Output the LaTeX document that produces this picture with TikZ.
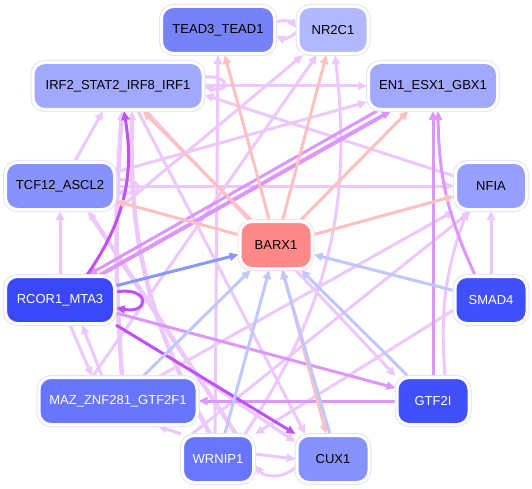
\documentclass[tikz,border=0pt]{standalone}
\usepackage{fontspec}
\setmainfont{Liberation Sans}
\usetikzlibrary{arrows.meta,backgrounds}
\definecolor{cTEAD}{RGB}{120,130,248}
\definecolor{cNR}{RGB}{178,184,255}
\definecolor{cIRF}{RGB}{160,168,255}
\definecolor{cEN}{RGB}{160,168,255}
\definecolor{cTCF}{RGB}{136,146,255}
\definecolor{cNFIA}{RGB}{152,160,255}
\definecolor{cBARX}{RGB}{255,136,136}
\definecolor{cRCOR}{RGB}{58,72,250}
\definecolor{cSMAD}{RGB}{64,80,255}
\definecolor{cMAZ}{RGB}{104,118,255}
\definecolor{cGTF}{RGB}{64,80,255}
\definecolor{cWRN}{RGB}{104,118,255}
\definecolor{cCUX}{RGB}{136,146,255}
\definecolor{cOut}{RGB}{224,228,255}
\definecolor{cOutR}{RGB}{255,224,224}
\definecolor{lav}{RGB}{236,200,255}
\definecolor{vio}{RGB}{220,150,255}
\definecolor{pur}{RGB}{192,80,250}
\definecolor{pnk}{RGB}{255,192,192}
\definecolor{lbl}{RGB}{192,200,255}
\definecolor{mbl}{RGB}{136,152,255}
\begin{document}
\begin{tikzpicture}[x=1pt,y=-1pt,
  nb/.style={rectangle, rounded corners=12pt, minimum height=47pt, inner sep=0pt,
    font=\fontsize{13}{15}\selectfont, draw=white, line width=3pt,
    preaction={draw=#1, line width=5pt}},
  nb/.default=cOut,
  tip/.style={-{Triangle[length=9pt,width=8pt]}},
  el/.style={draw=lav, line width=3pt, tip},
  elk/.style={draw=lav, line width=4.5pt, tip},
  ev/.style={draw=vio, line width=3pt, tip},
  ep/.style={draw=pur, line width=3pt, tip},
  epk/.style={draw=pnk, line width=3pt, tip},
  elb/.style={draw=lbl, line width=3pt, tip},
  emb/.style={draw=mbl, line width=3pt, tip}]
\useasboundingbox (0,0) rectangle (532,489);

\node[nb, fill=cTEAD, minimum width=113pt] (TEAD) at (218,30) {TEAD3\_TEAD1};
\node[nb, fill=cNR, minimum width=70pt] (NR) at (333,30) {NR2C1};
\node[nb, fill=cIRF, minimum width=170pt] (IRF) at (118,86) {IRF2\_STAT2\_IRF8\_IRF1};
\node[nb, fill=cEN, minimum width=129pt] (EN) at (433,86) {EN1\_ESX1\_GBX1};
\node[nb, fill=cTCF, minimum width=109pt] (TCF) at (60,186) {TCF12\_ASCL2};
\node[nb, fill=cNFIA, minimum width=71pt] (NFIA) at (491,186) {NFIA};
\node[nb=cOutR, fill=cBARX, minimum width=72pt] (BARX) at (276,245) {BARX1};
\node[nb, fill=cRCOR, minimum width=109pt, text=white] (RCOR) at (60,300) {RCOR1\_MTA3};
\node[nb, fill=cSMAD, minimum width=72pt, text=white] (SMAD) at (491,300) {SMAD4};
\node[nb, fill=cMAZ, minimum width=158pt, text=white] (MAZ) at (118,401) {MAZ\_ZNF281\_GTF2F1};
\node[nb, fill=cGTF, minimum width=72pt, text=white] (GTF) at (433,401) {GTF2I};
\node[nb, fill=cWRN, minimum width=71pt, text=white] (WRN) at (218,459) {WRNIP1};
\node[nb, fill=cCUX, minimum width=72pt] (CUX) at (333,459) {CUX1};

\begin{scope}[on background layer]
\fill[white] (0,0) rectangle (532,489);
% lavender
\draw[el] (IRF.east) -- (EN.west);
\draw[el] ([yshift=10pt]NFIA.west) -- ([yshift=-9pt]IRF.east);
\draw[el] ([yshift=9pt]IRF.east) .. controls +(26pt,2pt) and +(26pt,-6pt) .. ([yshift=-1pt]IRF.east);
\draw[el] ([xshift=15pt]TCF.north) -- ([xshift=-15pt]IRF.south);
\draw[el] ([yshift=14pt]TCF.east) -- ([yshift=-16pt]EN.west);
\draw[el] (TCF.east) -- (NFIA.west);
\draw[el] ([yshift=6pt]TCF.east) .. controls +(28pt,3pt) and +(28pt,-3pt) .. ([yshift=-6pt]TCF.east);
\draw[el] (TCF.south east) -- ([xshift=-30pt]NR.south);
\draw[el] (RCOR.north) -- (TCF.south);
\draw[el] (SMAD.north) -- (NFIA.south);
\draw[el] ([xshift=42pt]MAZ.north) -- (NFIA.south west);
\draw[el] ([xshift=12pt]GTF.north) to[bend left=12] ([xshift=-24pt]NFIA.south);
\draw[el] ([xshift=27pt]WRN.north) to[bend right=20] ([xshift=2pt]NR.south);
\draw[el] ([xshift=-25pt]MAZ.north) -- ([xshift=-16pt]NR.south);
\draw[el] ([yshift=8pt]TEAD.east) to[bend left=35] ([yshift=2pt]NR.west);
\draw[el] ([yshift=-2pt]NR.west) to[bend left=35] ([yshift=-6pt]TEAD.east);
\draw[elk] ([xshift=4pt]MAZ.north) to[bend left=4] ([xshift=4pt]IRF.south);
\draw[elk] ([xshift=-8pt]WRN.north) to[bend left=15] ([xshift=14pt]IRF.south);
\draw[el] ([xshift=20pt]IRF.south) -- ([xshift=-28pt]CUX.north);
\draw[el] ([xshift=28pt]IRF.south) -- (GTF.north west);
\draw[el] ([xshift=-3pt]WRN.north) -- (TEAD.south);
\draw[el] ([xshift=10pt]RCOR.south) -- ([xshift=-26pt]MAZ.north);
\draw[el] ([xshift=-16pt]MAZ.north) -- ([xshift=22pt]RCOR.south);
\draw[el] (WRN.north west) -- ([xshift=40pt]MAZ.south);
\draw[el] ([yshift=5pt]WRN.east) -- (CUX.west);
\draw[el] ([yshift=-8pt]CUX.west) to[bend left=50] ([yshift=-6pt]WRN.east);
\draw[elk] ([xshift=18pt]WRN.north) -- ([xshift=28pt]TCF.south);
\draw[el] ([yshift=-10pt]SMAD.west) -- (WRN.north east);
\draw[el] ([xshift=-26pt]WRN.north) -- ([xshift=-20pt]NFIA.south);
\draw[el] (MAZ.north east) -- ([yshift=17pt]CUX.west);
% violet
\draw[ev, line width=4pt] ([xshift=40pt]RCOR.north) -- ([xshift=-42pt]EN.south);
\draw[ev] ([xshift=-56pt]EN.south) -- ([xshift=28pt]RCOR.north);
\draw[ev] (GTF.north) -- (EN.south);
\draw[ev] ([xshift=-16pt]SMAD.north) to[bend left=12] ([xshift=5pt]EN.south);
\draw[ev] ([yshift=-13pt]RCOR.east) -- ([yshift=13pt]GTF.west);
\draw[ev] (GTF.west) -- (MAZ.east);
% purple
\draw[ep] (RCOR.south east) -- (CUX.north west);
\draw[ep] ([yshift=8pt]RCOR.east) .. controls +(34pt,6pt) and +(34pt,-6pt) .. ([yshift=-8pt]RCOR.east);
\draw[ep] ([xshift=27pt]RCOR.north) to[bend right=22] ([xshift=6pt]IRF.south);
% pink (BARX1 out)
\draw[epk] (BARX) -- (TEAD);
\draw[epk] (BARX) -- (NR);
\draw[epk] (BARX) -- (IRF);
\draw[epk] (BARX) -- (EN);
\draw[epk] (BARX) -- (TCF);
\draw[epk] (BARX) -- (NFIA);
\draw[epk] (BARX) -- (CUX);
% blue (into BARX1)
\draw[emb] (RCOR) -- (BARX);
\draw[elb] (SMAD) -- (BARX);
\draw[elb] (MAZ) -- (BARX);
\draw[elb] (WRN) -- (BARX);
\draw[elb] ([xshift=-3pt]CUX.north) -- ([xshift=6pt]BARX.south);
\draw[elb] (GTF) -- (BARX);
\end{scope}
\end{tikzpicture}
\end{document}
